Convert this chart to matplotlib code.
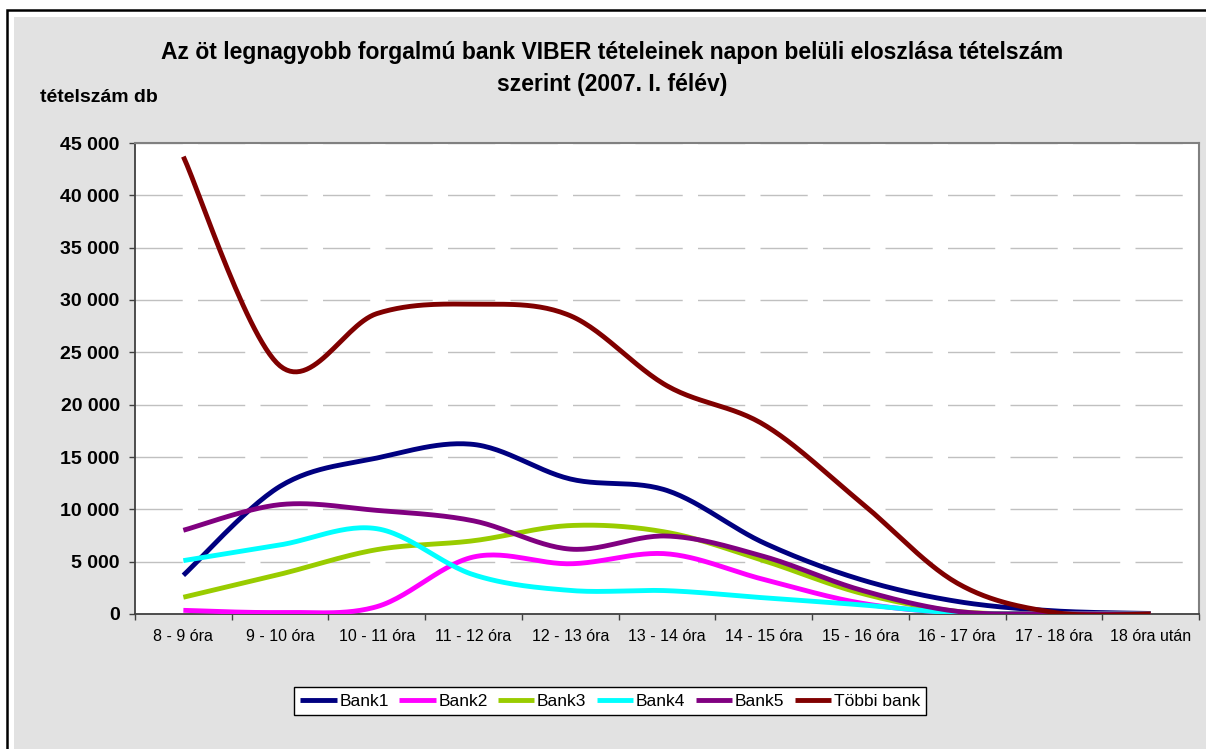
import numpy as np
import matplotlib
matplotlib.use("Agg")
import matplotlib.pyplot as plt
from matplotlib.patches import Rectangle
from matplotlib.ticker import FuncFormatter

plt.rcParams['font.family'] = ['Liberation Sans', 'DejaVu Sans']

categories = ["8 - 9 óra", "9 - 10 óra", "10 - 11 óra", "11 - 12 óra", "12 - 13 óra",
              "13 - 14 óra", "14 - 15 óra", "15 - 16 óra", "16 - 17 óra", "17 - 18 óra",
              "18 óra után"]

bank1 = [3700, 12200, 14900, 16200, 12900, 11800, 6800, 3300, 1200, 300, 50]
bank2 = [350, 150, 700, 5450, 4800, 5750, 3300, 1050, 100, 20, 0]
bank3 = [1600, 3800, 6150, 7000, 8450, 7800, 5100, 2000, 250, 20, 0]
bank4 = [5100, 6600, 8150, 3750, 2250, 2230, 1550, 880, 100, 10, 0]
bank5 = [8000, 10450, 9900, 8900, 6200, 7450, 5500, 2300, 250, 20, 0]
tobbi = [43700, 23700, 28700, 29600, 28500, 21800, 18100, 10700, 2950, 150, 0]

series_names = ["Bank1", "Bank2", "Bank3", "Bank4", "Bank5", "Többi bank"]
series_values = [bank1, bank2, bank3, bank4, bank5, tobbi]
series_colors = ["#000080", "#FF00FF", "#99CC00", "#00FFFF", "#800080", "#800000"]


def smooth(x, y, n=30):
    """Excel-like smoothed line (Catmull-Rom / Bezier with 1/6 tangents)."""
    x = np.asarray(x, float)
    y = np.asarray(y, float)
    px = np.concatenate([[x[0]], x, [x[-1]]])
    py = np.concatenate([[y[0]], y, [y[-1]]])
    xs, ys = [], []
    t = np.linspace(0, 1, n)
    for i in range(1, len(px) - 2):
        p0 = np.array([px[i], py[i]])
        p3 = np.array([px[i + 1], py[i + 1]])
        c1 = p0 + (np.array([px[i + 1], py[i + 1]]) - np.array([px[i - 1], py[i - 1]])) / 6
        c2 = p3 - (np.array([px[i + 2], py[i + 2]]) - np.array([px[i], py[i]])) / 6
        b = ((1 - t) ** 3)[:, None] * p0 + (3 * (1 - t) ** 2 * t)[:, None] * c1 \
            + (3 * (1 - t) * t ** 2)[:, None] * c2 + (t ** 3)[:, None] * p3
        xs.extend(b[:, 0])
        ys.extend(b[:, 1])
    return np.array(xs), np.array(ys)


W, H = 1206, 749
fig = plt.figure(figsize=(W / 100, H / 100), dpi=100, facecolor="white")

# outer frame and grey chart area
fig.patches.append(Rectangle((7 / W, -0.1), 1.2, (H - 10) / H + 0.1, transform=fig.transFigure,
                             facecolor="white", edgecolor="black", linewidth=1.8, zorder=-10))
fig.patches.append(Rectangle((14 / W, -0.1), 1.2, (H - 17) / H + 0.1, transform=fig.transFigure,
                             facecolor="#e2e2e2", edgecolor="none", zorder=-9))

ax = fig.add_axes([135 / W, (H - 614) / H, (1199 - 135) / W, (614 - 143) / H])
ax.set_facecolor("white")

x = np.arange(len(categories))
for name, vals, col in zip(series_names, series_values, series_colors):
    sx, sy = smooth(x, vals)
    ax.plot(sx, sy, color=col, lw=3.5, label=name, solid_capstyle="butt", zorder=3)

ax.set_xlim(-0.5, len(categories) - 0.5)
ax.set_ylim(0, 45000)
ax.set_yticks(np.arange(0, 45001, 5000))
ax.yaxis.set_major_formatter(FuncFormatter(lambda v, p: f"{int(v):,}".replace(",", " ")))
ax.tick_params(axis="y", labelsize=14, length=4, width=1, color="#404040", pad=7)
for lbl in ax.get_yticklabels():
    lbl.set_fontweight("bold")

ax.set_xticks(x)
ax.set_xticklabels(categories, fontsize=11.5)
ax.tick_params(axis="x", which="major", length=0, pad=11)
ax.set_xticks(np.arange(-0.5, len(categories), 1), minor=True)
ax.tick_params(axis="x", which="minor", length=4, width=1, color="#404040")

ax.grid(axis="y", color="#c0c0c0", lw=1.0, dashes=(34, 11))
ax.set_axisbelow(True)

for s in ["left", "bottom"]:
    ax.spines[s].set_color("#404040")
    ax.spines[s].set_linewidth(1.3)
for s in ["top", "right"]:
    ax.spines[s].set_color("#808080")
    ax.spines[s].set_linewidth(1.5)

fig.text(612 / W, 1 - 52 / H, "Az öt legnagyobb forgalmú bank VIBER tételeinek napon belüli eloszlása tételszám",
         ha="center", va="center", fontsize=16.5, fontweight="bold")
fig.text(612 / W, 1 - 85 / H, "szerint (2007. I. félév)",
         ha="center", va="center", fontsize=16.5, fontweight="bold")
fig.text(40 / W, 1 - 97 / H, "tételszám db", ha="left", va="center", fontsize=14, fontweight="bold")

leg = fig.legend(loc="center", bbox_to_anchor=(610 / W, 1 - 701 / H), ncol=6, fontsize=12.5,
                 frameon=True, fancybox=False, edgecolor="black", handlelength=2.1,
                 handletextpad=0.15, columnspacing=0.6, borderpad=0.35)
leg.get_frame().set_linewidth(1.0)
leg.get_frame().set_facecolor("white")
leg.get_frame().set_alpha(1)

fig.savefig("out.png", dpi=100, facecolor=fig.get_facecolor())
